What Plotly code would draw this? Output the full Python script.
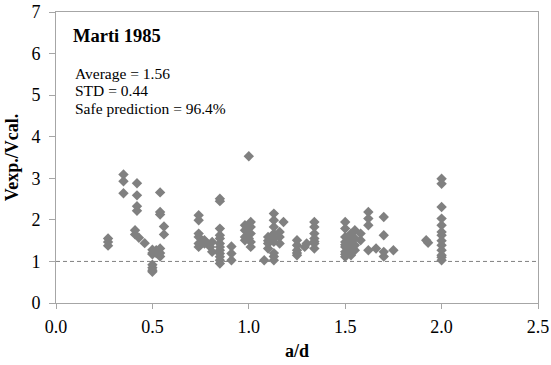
import plotly.graph_objects as go

# a/d values and Vexp./Vcal. ratios
ad = [
    0.27, 0.27, 0.27,
    0.35, 0.35, 0.35,
    0.42, 0.42, 0.42, 0.42, 0.41, 0.41, 0.43,
    0.46,
    0.50, 0.50, 0.50, 0.50, 0.50, 0.50, 0.50,
    0.52, 0.52,
    0.54, 0.54, 0.54, 0.54, 0.54, 0.54,
    0.56, 0.56,
    0.74, 0.74, 0.74, 0.74, 0.74, 0.74,
    0.77, 0.77, 0.78,
    0.81, 0.81, 0.80,
    0.85, 0.85, 0.85, 0.85, 0.85, 0.85, 0.85, 0.85, 0.85, 0.85, 0.85, 0.85,
    0.91, 0.91, 0.91,
    0.98, 0.98, 0.98, 0.98,
    1.00,
    1.01, 1.01, 1.01, 1.01, 1.01, 1.00,
    1.08,
    1.10, 1.10, 1.10, 1.10,
    1.13, 1.13, 1.13, 1.13, 1.13, 1.13, 1.13, 1.13, 1.13,
    1.16, 1.16, 1.16,
    1.18,
    1.25, 1.25, 1.25, 1.25, 1.25,
    1.29, 1.30,
    1.34, 1.34, 1.34, 1.34, 1.34, 1.34, 1.34,
    1.50, 1.50, 1.50, 1.50, 1.50, 1.50, 1.50, 1.50, 1.50,
    1.53, 1.53, 1.53, 1.53, 1.53,
    1.55, 1.55, 1.55, 1.55,
    1.58, 1.58,
    1.62, 1.62, 1.62, 1.62,
    1.66,
    1.70, 1.70, 1.70, 1.70,
    1.75,
    1.92, 1.93,
    2.00, 2.00, 2.00, 2.00, 2.00, 2.00, 2.00, 2.00, 2.00, 2.00, 2.00, 2.00, 2.00,
]
ratio = [
    1.55, 1.47, 1.38,
    3.09, 2.93, 2.64,
    2.88, 2.59, 2.33, 2.22, 1.75, 1.65, 1.57,
    1.44,
    1.28, 1.20, 1.17, 0.92, 0.85, 0.79, 0.75,
    1.27, 1.20,
    2.66, 2.19, 2.13, 1.31, 1.20, 1.12,
    1.84, 1.65,
    2.11, 1.99, 1.67, 1.59, 1.43, 1.35,
    1.51, 1.43, 1.45,
    1.47, 1.23, 1.35,
    2.51, 2.45, 1.79, 1.63, 1.43, 1.27, 1.11, 0.95, 1.35, 1.19, 1.03, 1.55,
    1.36, 1.19, 1.03,
    1.87, 1.75, 1.59, 1.51,
    3.53,
    1.95, 1.83, 1.67, 1.47, 1.35, 1.55,
    1.03,
    1.59, 1.43, 1.31, 1.50,
    2.15, 1.99, 1.83, 1.67, 1.47, 1.03, 1.55, 1.20, 1.12,
    1.71, 1.59, 1.43,
    1.95,
    1.51, 1.39, 1.27, 1.15, 1.20,
    1.35, 1.43,
    1.95, 1.83, 1.67, 1.55, 1.43, 1.31, 1.48,
    1.95, 1.79, 1.59, 1.47, 1.35, 1.23, 1.11, 1.40, 1.17,
    1.67, 1.51, 1.27, 1.15, 1.40,
    1.75, 1.55, 1.39, 1.27,
    1.67, 1.51,
    2.19, 2.03, 1.87, 1.27,
    1.31,
    2.07, 1.63, 1.23, 1.12,
    1.27,
    1.51, 1.45,
    2.99, 2.87, 2.31, 2.03, 1.87, 1.71, 1.63, 1.39, 1.27, 1.15, 1.03, 1.50, 1.10,
]

x_ticks = [0.0, 0.5, 1.0, 1.5, 2.0, 2.5]
x_tick_labels = ["0.0", "0.5", "1.0", "1.5", "2.0", "2.5"]
y_ticks = [0, 1, 2, 3, 4, 5, 6, 7]

title_text = "Marti 1985"
stat_lines = ["Average = 1.56", "STD = 0.44", "Safe prediction = 96.4%"]

FONT = "Liberation Serif, Times New Roman, serif"
AXIS_COLOR = "#a6a6a6"

fig = go.Figure()
fig.add_trace(go.Scatter(
    x=ad, y=ratio, mode="markers",
    marker=dict(symbol="diamond", size=8, color="#808080", line=dict(width=0)),
    showlegend=False, hoverinfo="x+y",
))

fig.add_shape(type="line", xref="x", yref="y", x0=0, x1=2.5, y0=1, y1=1,
              line=dict(color="#808080", width=1, dash="4px,3px"))

fig.add_annotation(xref="paper", yref="paper", x=0.031, y=0.918,
                   xanchor="left", yanchor="middle", showarrow=False,
                   text="<b>" + title_text + "</b>",
                   font=dict(family=FONT, size=18.5, color="black"))
stat_y = [0.788, 0.729, 0.670]
for txt, yy in zip(stat_lines, stat_y):
    fig.add_annotation(xref="paper", yref="paper", x=0.036, y=yy,
                       xanchor="left", yanchor="middle", showarrow=False,
                       text=txt, font=dict(family=FONT, size=15.5, color="black"))

fig.update_layout(
    width=551, height=365,
    margin=dict(l=56, r=13, t=12, b=62),
    paper_bgcolor="white", plot_bgcolor="white",
    font=dict(family=FONT, size=18, color="black"),
)
fig.update_xaxes(
    range=[0, 2.5], tickvals=x_ticks, ticktext=x_tick_labels,
    showgrid=False, zeroline=False, automargin=False,
    showline=True, mirror=True, linecolor=AXIS_COLOR, linewidth=1,
    ticks="outside", ticklen=5, tickcolor=AXIS_COLOR, ticklabelstandoff=2,
    title=dict(text="<b>a/d</b>", font=dict(family=FONT, size=18), standoff=8),
)
fig.update_yaxes(
    range=[0, 7], tickvals=y_ticks,
    showgrid=False, zeroline=False, automargin=False,
    showline=True, mirror=True, linecolor=AXIS_COLOR, linewidth=1,
    ticks="outside", ticklen=6, tickcolor=AXIS_COLOR, ticklabelstandoff=5,
    title=dict(text="<b>Vexp./Vcal.</b>", font=dict(family=FONT, size=18), standoff=8),
)

fig.write_html("out.html")
